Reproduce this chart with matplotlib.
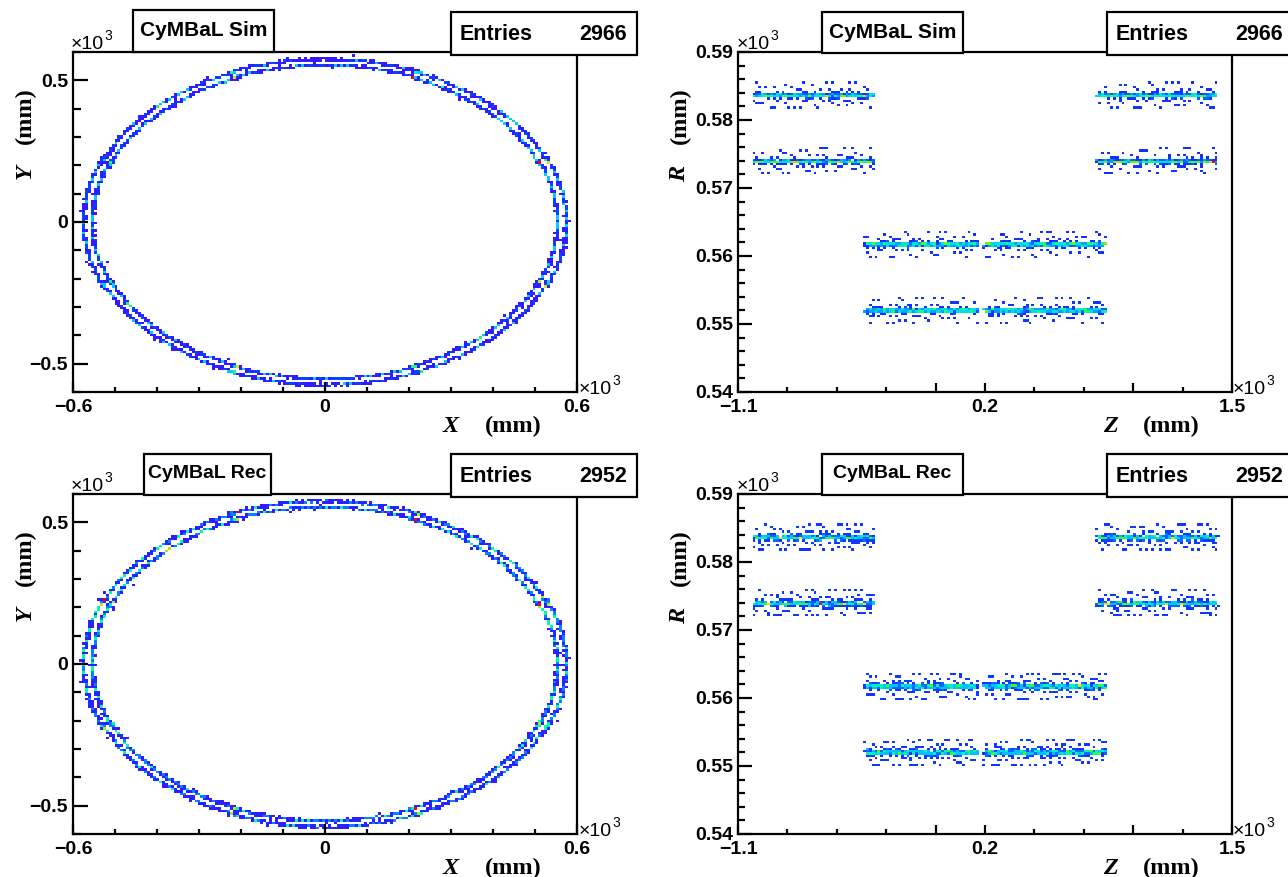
import numpy as np
import matplotlib
matplotlib.use('Agg')
import matplotlib.pyplot as plt
from matplotlib.colors import LinearSegmentedColormap
from matplotlib.patches import Rectangle
from matplotlib.ticker import FixedLocator, FuncFormatter
from statistics import NormalDist

# ---- values (axis units are x10^3 mm) ----
samples = ['Sim', 'Rec']
entries = [2966, 2952]

# R-Z view: outer layers at large |Z|, inner layers in the middle
rz_radii_outer = [0.5836, 0.5739]
rz_z_outer = [(-1.02, -0.385), (0.79, 1.425)]
rz_radii_inner = [0.5617, 0.5520]
rz_z_inner = [(-0.43, 0.165), (0.195, 0.84)]

# X-Y view: two visible rings, 8 tiles each (tile edges at 22.5 + 45k deg)
xy_radii = [0.573, 0.552]
xy_tile_centres = [0, 45, 90, 135, 180, 225, 270, 315]
xy_tile_shift = [0.002, -0.002]

# hit residual spread (core sigma, tail scale, tail fraction), sim / rec
rz_core = [0.00016, 0.0002]
rz_tail = [0.0008, 0.0009]
rz_tail_frac = [0.28, 0.36]
xy_core = [0.0016, 0.0019]

W, H = 1288, 877

plt.rcParams['font.family'] = ['Liberation Sans', 'DejaVu Sans']
plt.rcParams['font.weight'] = 'bold'
plt.rcParams['axes.linewidth'] = 1.6

pal_xy = LinearSegmentedColormap.from_list('xy', [(0.0, '#4412ff'), (0.3, '#2c1eff'), (0.45, '#0048ff'),
                                                   (0.56, '#00c8ff'), (0.68, '#00ffa0'), (0.78, '#40ff00'),
                                                   (0.88, '#ffe000'), (1.0, '#ff0000')])
pal_rz = LinearSegmentedColormap.from_list('rz', [(0.0, '#2a1cff'), (0.12, '#1030ff'), (0.3, '#0070ff'),
                                                   (0.45, '#00d0ff'), (0.6, '#00ffa0'), (0.72, '#40ff00'),
                                                   (0.86, '#ffe000'), (1.0, '#ff0000')])


def rseq(n, d, shift):
    # additive recurrence, deterministic low-discrepancy points in [0,1)^d
    g = 2.0
    for _ in range(40):
        g = (1 + g) ** (1.0 / (d + 1))
    a = np.array([g ** -(k + 1) for k in range(d)])
    i = np.arange(1, n + 1)[:, None]
    return (shift + i * a) % 1.0


def split(total, weights):
    w = np.asarray(weights, float)
    raw = total * w / w.sum()
    n = np.floor(raw).astype(int)
    n[np.argsort(raw - n)[::-1][:total - n.sum()]] += 1
    return n


nd = NormalDist()


def resid(u, umix, core, tail, frac, cut):
    uu = np.clip(u, 1e-5, 1 - 1e-5)
    g = np.array([nd.inv_cdf(v) for v in uu]) * core
    lap = -tail * np.sign(uu - 0.5) * np.log(1 - 2 * np.abs(uu - 0.5))
    lap = np.clip(lap, -cut, cut)
    return np.where(umix < frac, lap, g)


def rz_hits(k):
    segs = [(r, z0, z1) for r in rz_radii_outer for (z0, z1) in rz_z_outer]
    segs += [(r, z0, z1) for r in rz_radii_inner for (z0, z1) in rz_z_inner]
    counts = split(entries[k], [s[2] - s[1] for s in segs])
    zz, rr = [], []
    for j, ((r, z0, z1), n) in enumerate(zip(segs, counts)):
        u = rseq(n, 3, 0.17 * j + 0.31 * k)
        zz.append(z0 + (z1 - z0) * u[:, 0])
        rr.append(r + resid(u[:, 1], u[:, 2], rz_core[k], rz_tail[k], rz_tail_frac[k], 0.0018))
    return np.concatenate(zz), np.concatenate(rr)


def xy_hits(k):
    tiles = [(r, c, i) for r in xy_radii for i, c in enumerate(xy_tile_centres)]
    counts = split(entries[k], np.ones(len(tiles)))
    xs, ys = [], []
    for j, ((r, c, i), n) in enumerate(zip(tiles, counts)):
        u = rseq(n, 3, 0.13 * j + 0.29 * k)
        phi = np.radians(c + (u[:, 0] - 0.5) * 47.0)
        rad = r + xy_tile_shift[i % 2] + resid(u[:, 1], u[:, 2], xy_core[k], 0.004, 0.08, 0.012)
        xs.append(rad * np.cos(phi))
        ys.append(rad * np.sin(phi))
    return np.concatenate(xs), np.concatenate(ys)


def draw_hist(ax, x, y, xe, ye, cmap):
    h, _, _ = np.histogram2d(x, y, bins=[xe, ye])
    hm = np.ma.masked_equal(h.T, 0)
    ax.pcolormesh(xe, ye, hm, cmap=cmap, vmin=0, vmax=h.max(), rasterized=True)


def fx(x):
    return x / W


def fy(y):
    return 1 - y / H


def axes_at(l, t, r, b):
    return fig.add_axes([fx(l), fy(b), (r - l) / W, (b - t) / H])


def lab(v):
    s = ('%g' % v)
    return s.replace('-', '\u2212')


def style_axis(ax, xmaj, xlab, xmin, ymaj, ylab, ymin, xlen, ylen):
    ax.xaxis.set_major_locator(FixedLocator(xmaj))
    ax.xaxis.set_minor_locator(FixedLocator(xmin))
    ax.yaxis.set_major_locator(FixedLocator(ymaj))
    ax.yaxis.set_minor_locator(FixedLocator(ymin))
    ax.xaxis.set_major_formatter(FuncFormatter(lambda v, p: lab(v) if any(abs(v - q) < 1e-6 for q in xlab) else ''))
    ax.yaxis.set_major_formatter(FuncFormatter(lambda v, p: lab(v) if any(abs(v - q) < 1e-6 for q in ylab) else ''))
    ax.tick_params(which='both', direction='in', top=False, right=False, width=1.6, labelsize=14)
    ax.tick_params(axis='x', which='major', length=xlen[0], pad=5)
    ax.tick_params(axis='x', which='minor', length=xlen[1])
    ax.tick_params(axis='y', which='major', length=ylen[0], pad=3.5)
    ax.tick_params(axis='y', which='minor', length=ylen[1])


def box(x0, y0, x1, y1):
    fig.patches.append(Rectangle((fx(x0), fy(y1)), (x1 - x0) / W, (y1 - y0) / H, transform=fig.transFigure,
                                 facecolor='white', edgecolor='black', lw=1.6, zorder=10))


def times10(x, y):
    fig.text(fx(x), fy(y), '\u00d710', fontsize=14, fontweight='normal', ha='left', va='baseline', zorder=11)
    fig.text(fx(x + 33), fy(y - 9), '3', fontsize=10, fontweight='normal', ha='left', va='baseline', zorder=11)


def axis_title(var, x_var, x_end, y_base, vertical=False):
    serif = ['Liberation Serif', 'DejaVu Serif']
    if not vertical:
        fig.text(fx(x_var), fy(y_base), var, family=serif, style='italic', fontsize=17.5, ha='left', va='baseline')
        fig.text(fx(x_end), fy(y_base), '(mm)', family=serif, fontsize=17.5, ha='right', va='baseline')
    else:
        fig.text(fx(y_base), fy(x_end), '(mm)', family=serif, fontsize=17.5, rotation=90, ha='center', va='top')
        fig.text(fx(y_base), fy(x_var), var, family=serif, style='italic', fontsize=17.5, rotation=90,
                 ha='center', va='center')


fig = plt.figure(figsize=(W / 100, H / 100), dpi=100)

xy_xe = np.linspace(-0.6, 0.6, 171)
xy_ye = np.linspace(-0.6, 0.6, 141)
rz_ze = np.linspace(-1.1, 1.5, 171)
rz_re = np.linspace(0.54, 0.59, 151)

for k, name in enumerate(samples):
    dy = 442 * k

    # X-Y panel
    ax = axes_at(73, 52 + dy, 577, 392 + dy)
    x, y = xy_hits(k)
    draw_hist(ax, x, y, xy_xe, xy_ye, pal_xy)
    ax.set_xlim(-0.6, 0.6)
    ax.set_ylim(-0.6, 0.6)
    style_axis(ax, [-0.6, 0, 0.6], [-0.6, 0, 0.6], np.arange(-0.6, 0.61, 0.1),
               [-0.5, 0, 0.5], [-0.5, 0, 0.5], np.arange(-0.6, 0.61, 0.1), (7.5, 3.8), (10.8, 5.8))

    # R-Z panel
    ax2 = axes_at(738, 52 + dy, 1232, 392 + dy)
    z, r = rz_hits(k)
    draw_hist(ax2, z, r, rz_ze, rz_re, pal_rz)
    ax2.set_xlim(-1.1, 1.5)
    ax2.set_ylim(0.54, 0.59)
    style_axis(ax2, [-1.1, -0.06, 0.2, 0.98, 1.5], [-1.1, 0.2, 1.5], np.arange(-1.1, 1.51, 0.26),
               [0.54, 0.55, 0.56, 0.57, 0.58, 0.59], [0.54, 0.55, 0.56, 0.57, 0.58, 0.59],
               np.arange(0.54, 0.5901, 0.002), (6.5, 3.4), (10.3, 5.2))

    # title and stats boxes
    tsize = 15 if k == 0 else 14
    if k == 0:
        box(133, 10 + dy, 274, 52 + dy)
        fig.text(fx(203.5), fy(31 + dy), 'CyMBaL ' + name, fontsize=tsize, ha='center', va='center', zorder=11)
    else:
        box(144, 12 + dy, 271, 53 + dy)
        fig.text(fx(207.5), fy(32 + dy), 'CyMBaL ' + name, fontsize=tsize, ha='center', va='center', zorder=11)
    box(822, 12 + dy, 963, 53 + dy)
    fig.text(fx(892.5), fy(32 + dy), 'CyMBaL ' + name, fontsize=tsize, ha='center', va='center', zorder=11)
    for bx0, bx1 in [(451, 637), (1107, 1293)]:
        box(bx0, 12 + dy, bx1, 55 + dy)
        fig.text(fx(bx0 + 9), fy(34 + dy), 'Entries', fontsize=15.5, ha='left', va='center', zorder=11)
        fig.text(fx(bx0 + 176), fy(34 + dy), str(entries[k]), fontsize=15.5, ha='right', va='center', zorder=11)

    # x10^3 multipliers
    times10(71, 49 + dy)
    times10(579, 394 + dy)
    times10(737, 49 + dy)
    times10(1233, 394 + dy)

    # axis titles
    axis_title('X', 443, 542, 432 + dy)
    axis_title('Z', 1103, 1200, 432 + dy)
    axis_title('Y', 172 + dy, 87 + dy, 25, vertical=True)
    axis_title('R', 174 + dy, 87 + dy, 680, vertical=True)

plt.savefig('out.png', dpi=100)
